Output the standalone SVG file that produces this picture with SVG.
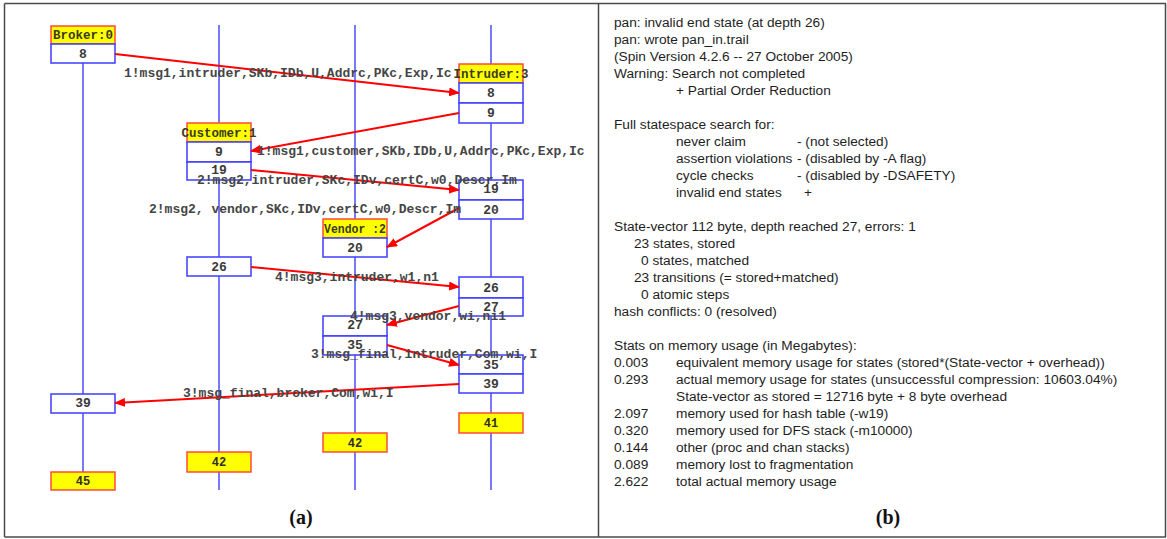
<svg xmlns="http://www.w3.org/2000/svg" width="1167" height="539" viewBox="0 0 1167 539">
<style>
.frame{fill:none;stroke:#4a4a4a;stroke-width:1.5}
.life{stroke:#4d4dff;stroke-width:1.5}
.box{fill:#fff;stroke:#3c3cff;stroke-width:1.5}
.head{fill:#ffff00;stroke:#ff4a3a;stroke-width:1.5}
.fin{fill:#ffff00;stroke:#ff4a3a;stroke-width:1.5}
.num{font-family:"Liberation Mono","Courier New",monospace;font-size:13px;font-weight:bold;fill:#3a3a3a;text-anchor:middle}
.hl{font-family:"Liberation Mono","Courier New",monospace;font-size:12.5px;font-weight:bold;fill:#3a3a20;text-anchor:middle}
.fl{font-family:"Liberation Mono","Courier New",monospace;font-size:12px;font-weight:bold;fill:#303030;text-anchor:middle}
.msg{font-family:"Liberation Mono","Courier New",monospace;font-size:13px;font-weight:bold;fill:#454545}
.arr{stroke:#ff0000;stroke-width:2;fill:none}
.t{font-family:"Liberation Sans",Arial,sans-serif;font-size:13.7px;fill:#1e1e1e}
.cap{font-family:"Liberation Serif","Times New Roman",serif;font-size:20px;font-weight:bold;fill:#111;text-anchor:middle}
</style>
<defs>
<marker id="ah" markerWidth="11" markerHeight="9" refX="10" refY="4.5" orient="auto" markerUnits="userSpaceOnUse">
<path d="M0,0 L11,4.5 L0,9 z" fill="#ff0000"/>
</marker>
</defs>
<rect width="1167" height="539" fill="#fff"/>
<g id="frame">
<line class="frame" x1="4.5" y1="3.5" x2="1166" y2="3.5"/>
<line class="frame" x1="4.5" y1="3.5" x2="4.5" y2="537"/>
<line class="frame" x1="4.5" y1="537" x2="1166" y2="537"/>
<line class="frame" x1="598.5" y1="3.5" x2="598.5" y2="537"/>
<line class="frame" x1="1165.5" y1="3.5" x2="1165.5" y2="537"/>
</g>
<g id="lifelines">
<line class="life" x1="83" y1="63" x2="83" y2="472"/>
<line class="life" x1="219" y1="25" x2="219" y2="490"/>
<line class="life" x1="355" y1="25" x2="355" y2="490"/>
<line class="life" x1="491" y1="25" x2="491" y2="490"/>
</g>
<g id="broker">
<g id="broker-head"><rect class="head" x="51" y="26" width="64" height="18"/><text class="hl" x="83" y="39">Broker:0</text></g>
<g id="broker-8"><rect class="box" x="51" y="44" width="64" height="19"/><text class="num" x="83" y="58">8</text></g>
<g id="broker-39"><rect class="box" x="51" y="394" width="64" height="19"/><text class="num" x="83" y="407">39</text></g>
<g id="broker-45"><rect class="fin" x="51" y="472" width="64" height="18"/><text class="fl" x="83" y="485">45</text></g>
</g>
<g id="customer">
<g id="customer-head"><rect class="head" x="187" y="123" width="64" height="19"/><text class="hl" x="219" y="137">Customer:1</text></g>
<g id="customer-9"><rect class="box" x="187" y="142" width="64" height="20"/><text class="num" x="219" y="156">9</text></g>
<g id="customer-19"><rect class="box" x="187" y="162" width="64" height="18"/><text class="num" x="219" y="174">19</text></g>
<g id="customer-26"><rect class="box" x="187" y="257" width="64" height="19"/><text class="num" x="219" y="271">26</text></g>
<g id="customer-42"><rect class="fin" x="187" y="452" width="64" height="20"/><text class="fl" x="219" y="466">42</text></g>
</g>
<g id="vendor">
<g id="vendor-head"><rect class="head" x="323" y="219" width="64" height="19"/><text class="hl" x="355" y="233" textLength="62" lengthAdjust="spacingAndGlyphs">Vendor :2</text></g>
<g id="vendor-20"><rect class="box" x="323" y="238" width="64" height="19"/><text class="num" x="355" y="252">20</text></g>
<g id="vendor-27"><rect class="box" x="323" y="316" width="64" height="20"/><text class="num" x="355" y="329">27</text></g>
<g id="vendor-35"><rect class="box" x="323" y="336" width="64" height="19"/><text class="num" x="355" y="349">35</text></g>
<g id="vendor-42"><rect class="fin" x="323" y="433" width="64" height="19"/><text class="fl" x="355" y="447">42</text></g>
</g>
<g id="intruder">
<g id="intruder-head"><rect class="head" x="459" y="64" width="64" height="19"/><text class="hl" x="491" y="78">Intruder:3</text></g>
<g id="intruder-8"><rect class="box" x="459" y="83" width="64" height="20"/><text class="num" x="491" y="97">8</text></g>
<g id="intruder-9"><rect class="box" x="459" y="103" width="64" height="20"/><text class="num" x="491" y="117">9</text></g>
<g id="intruder-19"><rect class="box" x="459" y="180" width="64" height="20"/><text class="num" x="491" y="193">19</text></g>
<g id="intruder-20"><rect class="box" x="459" y="200" width="64" height="19"/><text class="num" x="491" y="214">20</text></g>
<g id="intruder-26"><rect class="box" x="459" y="277" width="64" height="21"/><text class="num" x="491" y="292">26</text></g>
<g id="intruder-27"><rect class="box" x="459" y="298" width="64" height="18"/><text class="num" x="491" y="311">27</text></g>
<g id="intruder-35"><rect class="box" x="459" y="355" width="64" height="19"/><text class="num" x="491" y="369">35</text></g>
<g id="intruder-39"><rect class="box" x="459" y="374" width="64" height="19"/><text class="num" x="491" y="388">39</text></g>
<g id="intruder-41"><rect class="fin" x="459" y="413" width="64" height="20"/><text class="fl" x="491" y="427">41</text></g>
</g>
<g id="connectors">
<line class="arr" x1="115" y1="54" x2="459" y2="93" marker-end="url(#ah)"/>
<line class="arr" x1="459" y1="113" x2="251" y2="151" marker-end="url(#ah)"/>
<line class="arr" x1="251" y1="170" x2="459" y2="190" marker-end="url(#ah)"/>
<line class="arr" x1="459" y1="208" x2="387" y2="247" marker-end="url(#ah)"/>
<line class="arr" x1="251" y1="267" x2="459" y2="287" marker-end="url(#ah)"/>
<line class="arr" x1="459" y1="306" x2="387" y2="325" marker-end="url(#ah)"/>
<line class="arr" x1="387" y1="345" x2="459" y2="365" marker-end="url(#ah)"/>
<line class="arr" x1="459" y1="384" x2="115" y2="403" marker-end="url(#ah)"/>
</g>
<g id="labels">
<text class="msg" x="124" y="77">1!msg1,intruder,SKb,IDb,U,Addrc,PKc,Exp,Ic</text>
<text class="msg" x="257" y="155">1!msg1,customer,SKb,IDb,U,Addrc,PKc,Exp,Ic</text>
<text class="msg" x="197" y="184">2!msg2,intruder,SKc,IDv,certC,w0,Descr,Im</text>
<text class="msg" x="149" y="213" xml:space="preserve">2!msg2, vendor,SKc,IDv,certC,w0,Descr,Im</text>
<text class="msg" x="275" y="281">4!msg3,intruder,w1,n1</text>
<text class="msg" x="350" y="320">4!msg3,vendor,wi,ni1</text>
<text class="msg" x="311" y="358">3!msg_final,intruder,Com,wi,I</text>
<text class="msg" x="183" y="397">3!msg_final,broker,Com,wi,I</text>
</g>
<text class="cap" x="301" y="524">(a)</text>
<g id="spin-output">
<text class="t" x="614" y="27">pan: invalid end state (at depth 26)</text>
<text class="t" x="614" y="44">pan: wrote pan_in.trail</text>
<text class="t" x="614" y="61">(Spin Version 4.2.6 -- 27 October 2005)</text>
<text class="t" x="614" y="78">Warning: Search not completed</text>
<text class="t" x="676" y="95">+ Partial Order Reduction</text>
<text class="t" x="614" y="129">Full statespace search for:</text>
<text class="t" x="676" y="146">never claim</text><text class="t" x="797" y="146">- (not selected)</text>
<text class="t" x="676" y="163">assertion violations</text><text class="t" x="797" y="163">- (disabled by -A flag)</text>
<text class="t" x="676" y="180">cycle checks</text><text class="t" x="797" y="180">- (disabled by -DSAFETY)</text>
<text class="t" x="676" y="197">invalid end states</text><text class="t" x="804" y="197">+</text>
<text class="t" x="614" y="231">State-vector 112 byte, depth reached 27, errors: 1</text>
<text class="t" x="634" y="248">23 states, stored</text>
<text class="t" x="641" y="265">0 states, matched</text>
<text class="t" x="634" y="282">23 transitions (= stored+matched)</text>
<text class="t" x="641" y="299">0 atomic steps</text>
<text class="t" x="614" y="316">hash conflicts: 0 (resolved)</text>
<text class="t" x="614" y="350">Stats on memory usage (in Megabytes):</text>
<text class="t" x="614" y="367">0.003</text><text class="t" x="676" y="367">equivalent memory usage for states (stored*(State-vector + overhead))</text>
<text class="t" x="614" y="384">0.293</text><text class="t" x="676" y="384">actual memory usage for states (unsuccessful compression: 10603.04%)</text>
<text class="t" x="676" y="401">State-vector as stored = 12716 byte + 8 byte overhead</text>
<text class="t" x="614" y="418">2.097</text><text class="t" x="676" y="418">memory used for hash table (-w19)</text>
<text class="t" x="614" y="435">0.320</text><text class="t" x="676" y="435">memory used for DFS stack (-m10000)</text>
<text class="t" x="614" y="452">0.144</text><text class="t" x="676" y="452">other (proc and chan stacks)</text>
<text class="t" x="614" y="469">0.089</text><text class="t" x="676" y="469">memory lost to fragmentation</text>
<text class="t" x="614" y="486">2.622</text><text class="t" x="676" y="486">total actual memory usage</text>
</g>
<text class="cap" x="888" y="524">(b)</text>
</svg>
